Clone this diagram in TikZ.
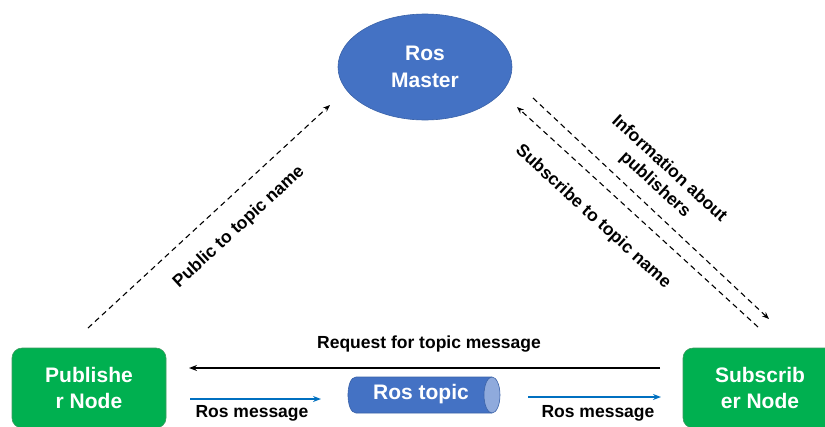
\documentclass[tikz,border=0pt]{standalone}
\usepackage{fontspec}
\setmainfont{Liberation Sans}
\usetikzlibrary{shapes.geometric,arrows.meta}
\definecolor{nodegreen}{HTML}{00B050}
\definecolor{nodegreenedge}{HTML}{3C9A5F}
\definecolor{rosblue}{HTML}{4472C4}
\definecolor{rosblueedge}{HTML}{3A62A8}
\definecolor{capblue}{HTML}{8FAADC}
\definecolor{msgblue}{HTML}{0070C0}
\tikzset{
  nodebox/.style={draw=nodegreenedge, line width=0.6pt, fill=nodegreen, rounded corners=10pt,
    minimum width=154pt, minimum height=80pt, text=white, align=center,
    font=\bfseries\fontsize{21}{26}\selectfont, inner sep=0pt},
  master/.style={ellipse, draw=rosblueedge, line width=0.6pt, fill=rosblue, minimum width=174pt,
    minimum height=106pt, text=white, align=center, font=\bfseries\fontsize{21}{27}\selectfont, inner sep=0pt},
  topictext/.style={text=white, font=\bfseries\fontsize{21}{26}\selectfont, inner sep=0pt},
  cylline/.style={draw=rosblueedge, line width=0.6pt},
  lbl/.style={font=\bfseries\fontsize{17.5}{21}\selectfont, inner sep=0pt, align=center},
  dasharrow/.style={dashed, dash pattern=on 5.5pt off 4pt, line width=1.1pt, -{Stealth[length=7pt,width=5.5pt]}},
  reqarrow/.style={line width=1.4pt, -{Stealth[length=8pt,width=6pt]}},
  msgarrow/.style={draw=msgblue, line width=1.8pt, -{Stealth[length=8pt,width=6pt]}, msgblue},
}
\begin{document}
\begin{tikzpicture}[x=1pt,y=-1pt]
\useasboundingbox (0,0) rectangle (825,426);
\begin{scope}
\clip (0,0) rectangle (825,426);
\node[master] (master) at (425,67) {Ros\\Master};
\node[nodebox] (pub) at (89,388) {Publishe\\r Node};
\node[nodebox] (sub) at (760,388) {Subscrib\\er Node};

% Ros topic cylinder
\fill[rosblue] (356,377) .. controls (345.3,377) and (345.3,413) .. (356,413) -- (492,413) -- (492,377) -- cycle;
\draw[cylline] (492,377) -- (356,377) .. controls (345.3,377) and (345.3,413) .. (356,413) -- (492,413);
\draw[cylline, fill=capblue] (492,395) ellipse [x radius=8, y radius=18];
\node[topictext] (topic) at (421,394) {Ros topic};

% request arrow
\coordinate (reqS) at (660,368);
\coordinate (reqE) at (189,368);
\draw[reqarrow] (reqS) -- (reqE);
\node[lbl] (reqlbl) at (429,344) {Request for topic message};

% ros message arrows
\coordinate (m1S) at (190,399);
\coordinate (m1E) at (321,399);
\draw[msgarrow] (m1S) -- (m1E);
\node[lbl] (m1lbl) at (252,413) {Ros message};
\coordinate (m2S) at (528,397);
\coordinate (m2E) at (661,397);
\draw[msgarrow] (m2S) -- (m2E);
\node[lbl] (m2lbl) at (598,413) {Ros message};

% dashed arrows
\coordinate (pS) at (88,328);
\coordinate (pE) at (330,105);
\draw[dasharrow] (pS) -- (pE);
\node[lbl, rotate=42.6] (plbl) at (239,227) {Public to topic name};

\coordinate (sS) at (758,327);
\coordinate (sE) at (517,107);
\draw[dasharrow] (sS) -- (sE);
\node[lbl, rotate=-42.4] (slbl) at (593,217) {Subscribe to topic name};

\coordinate (iS) at (533,98);
\coordinate (iE) at (769,319);
\draw[dasharrow] (iS) -- (iE);
\node[lbl, rotate=-42.4] (ilbl) at (662,177) {Information about\\publishers};
\end{scope}
\end{tikzpicture}
\end{document}
